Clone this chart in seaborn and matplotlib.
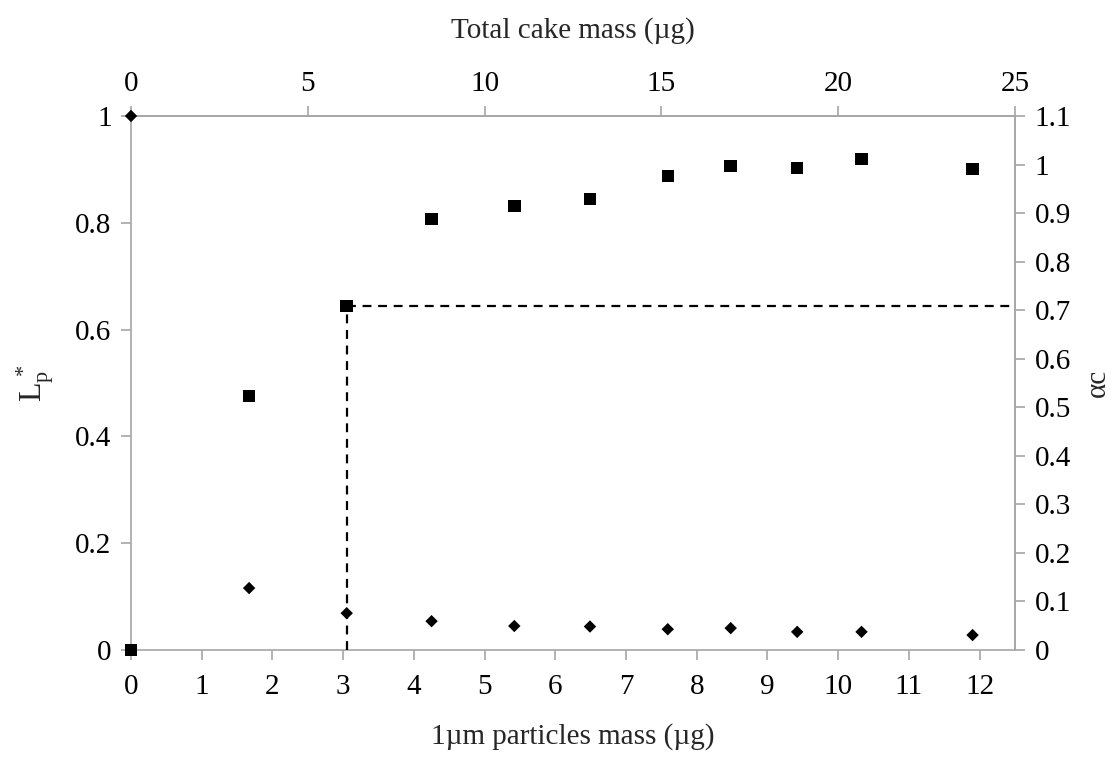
import matplotlib
matplotlib.use("Agg")
import matplotlib.pyplot as plt
import numpy as np
import pandas as pd
import seaborn as sns

# 1 um particle mass (ug) on the bottom axis
particle_mass = [0, 1.67, 3.05, 4.25, 5.42, 6.49, 7.59, 8.48, 9.42, 10.33, 11.9]
# L_p* (left axis, diamonds)
lp_star = [1.0, 0.116, 0.069, 0.054, 0.045, 0.044, 0.039, 0.041, 0.034, 0.034, 0.028]
# alpha_c (right axis, squares)
alpha_c = [0.0, 0.523, 0.709, 0.888, 0.915, 0.929, 0.976, 0.997, 0.993, 1.011, 0.991]
# point where the dashed guide starts
threshold_idx = 2

left_ticks = [0, 0.2, 0.4, 0.6, 0.8, 1.0]
right_ticks = [0, 0.1, 0.2, 0.3, 0.4, 0.5, 0.6, 0.7, 0.8, 0.9, 1.0, 1.1]
bottom_ticks = list(range(0, 13))
top_ticks = [0, 5, 10, 15, 20, 25]

df = pd.DataFrame({"mass": particle_mass, "lp": lp_star, "alpha": alpha_c})

sns.set_style("white")
plt.rcParams["font.family"] = ["Liberation Serif", "DejaVu Serif"]
plt.rcParams["mathtext.fontset"] = "stix"

fs = 21
spine_color = "#a6a6a6"

fig = plt.figure(figsize=(11.15, 7.66), dpi=100)
ax = fig.add_axes([0.1175, 0.1514, 0.7928, 0.6972])
ax2 = ax.twinx()

sns.scatterplot(data=df, x="mass", y="lp", marker="D", s=40, color="black",
                edgecolor="none", ax=ax, zorder=5, clip_on=False)
sns.scatterplot(data=df, x="mass", y="alpha", marker="s", s=80, color="black",
                edgecolor="none", ax=ax2, zorder=5, clip_on=False)

# dashed guide from the threshold square down to the axis and across to the right
tx = particle_mass[threshold_idx]
ty = alpha_c[threshold_idx]
ax2.plot([tx, tx], [0, ty], color="black", linestyle=(0, (4, 3)), linewidth=1.6, zorder=2)
ax2.plot([tx, 12.5], [ty, ty], color="black", linestyle=(0, (4, 3)), linewidth=1.6, zorder=2)

ax.set_xlim(0, 12.5)
ax.set_ylim(0, 1.0)
ax2.set_ylim(0, 1.1)

ax.set_xticks(bottom_ticks)
ax.set_yticks(left_ticks)
ax.set_yticklabels([f"{v:g}" for v in left_ticks])
ax2.set_yticks(right_ticks)
ax2.set_yticklabels([f"{v:g}" for v in right_ticks])

secax = ax.secondary_xaxis("top", functions=(lambda x: 2 * x, lambda x: x / 2))
secax.set_xticks(top_ticks)

for a in (ax, ax2, secax):
    for sp in a.spines.values():
        sp.set_color(spine_color)
        sp.set_linewidth(1.2)
    a.tick_params(direction="out", length=7, width=1.2, color=spine_color,
                  labelsize=fs, labelcolor="black", pad=7)

# the twin only keeps its right spine so it does not cover the corner points
for side in ["left", "top", "bottom"]:
    ax2.spines[side].set_visible(False)

ax.tick_params(axis="x", bottom=True, top=False, pad=10)
ax.tick_params(axis="y", left=True, right=False)
ax2.tick_params(axis="y", right=True, left=False)

ax.set_xlabel("1µm particles mass (µg)", fontsize=fs, labelpad=17)
ax.set_ylabel(r"$\mathregular{L_p^{\,*}}$", fontsize=fs + 2, labelpad=14)
ax2.set_ylabel("αc", fontsize=fs, labelpad=10)
secax.set_xlabel("Total cake mass (µg)", fontsize=fs, labelpad=24)

ax.grid(False)
ax2.grid(False)

fig.savefig("out.png", dpi=100)
